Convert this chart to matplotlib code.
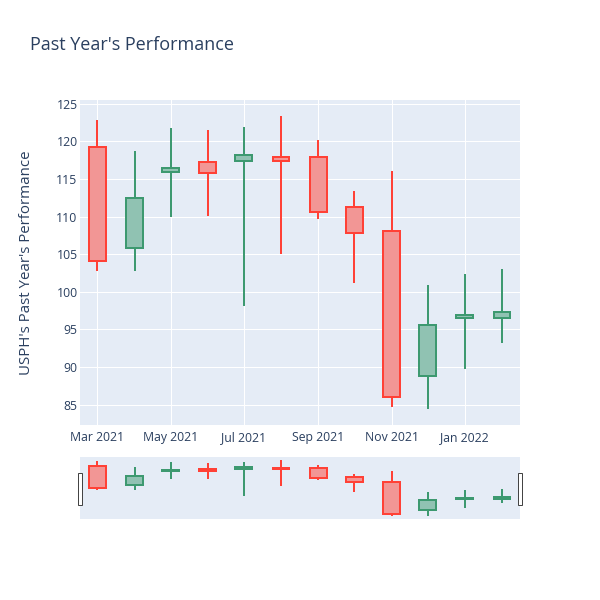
import matplotlib
matplotlib.use("Agg")
import matplotlib.pyplot as plt
import matplotlib.dates as mdates
import numpy as np
import pandas as pd
from matplotlib.patches import Rectangle

plt.rcParams['font.family'] = ['Open Sans', 'DejaVu Sans']

dates = ["2021-03-01", "2021-04-01", "2021-05-01", "2021-06-01", "2021-07-01", "2021-08-01",
         "2021-09-01", "2021-10-01", "2021-11-01", "2021-12-01", "2022-01-01", "2022-02-01"]
opens  = [119.25, 105.84, 115.93, 117.26, 117.43, 117.88, 117.88, 111.28, 108.05, 88.76, 96.50, 96.46]
highs  = [122.79, 118.72, 121.73, 121.55, 121.95, 123.36, 120.22, 113.45, 116.02, 100.88, 102.43, 103.01]
lows   = [102.74, 102.83, 110.00, 110.04, 98.10, 105.04, 109.69, 101.19, 84.73, 84.47, 89.69, 93.23]
closes = [104.16, 112.48, 116.42, 115.80, 118.19, 117.39, 110.62, 107.83, 86.06, 95.53, 96.86, 97.30]

title = "Past Year's Performance"
ylabel = "USPH's Past Year's Performance"
yticks = [85, 90, 95, 100, 105, 110, 115, 120, 125]

INC = "#3D9970"
DEC = "#FF4136"
BG = "#E5ECF6"
TXT = "#2a3f5f"
PX = 72 / 100  # points per pixel

x = mdates.date2num(pd.to_datetime(dates))
o = np.array(opens); h = np.array(highs); l = np.array(lows); c = np.array(closes)

fig = plt.figure(figsize=(6, 6), dpi=100)
W, H = 600, 600
ax = fig.add_axes([80 / W, 1 - 425 / H, 440 / W, 325 / H])
rs = fig.add_axes([80 / W, 1 - 519 / H, 440 / W, 62 / H])

xmin = x[0] - 14.5
xmax = x[-1] + 15
ylim = (82.3, 125.5)


def draw(a, lw_px=2.0, bw=14.0):
    for xi, oi, hi, li, ci in zip(x, o, h, l, c):
        col = INC if ci >= oi else DEC
        a.vlines(xi, li, hi, color=col, linewidth=lw_px * PX, zorder=2)
        lo_b, hi_b = min(oi, ci), max(oi, ci)
        a.bar(xi, hi_b - lo_b, width=bw, bottom=lo_b, facecolor=BG, edgecolor='none', zorder=2.5)
        a.bar(xi, hi_b - lo_b, width=bw, bottom=lo_b, facecolor=matplotlib.colors.to_rgba(col, 0.5),
              edgecolor=col, linewidth=lw_px * PX, zorder=3)


for a in (ax, rs):
    a.set_facecolor(BG)
    for s in a.spines.values():
        s.set_visible(False)
    a.set_xlim(xmin, xmax)
    a.set_ylim(*ylim)

draw(ax)
draw(rs)

ax.set_yticks(yticks)
ax.xaxis.set_major_locator(mdates.MonthLocator(bymonth=[1, 3, 5, 7, 9, 11]))
ax.xaxis.set_major_formatter(mdates.DateFormatter('%b %Y'))
ax.grid(True, color='white', linewidth=1.0 * PX, zorder=0)
ax.set_axisbelow(True)
ax.tick_params(axis='both', length=0, labelsize=12.3 * PX, labelcolor=TXT)
ax.tick_params(axis='y', pad=2.5 * PX)
ax.tick_params(axis='x', pad=6 * PX)

rs.set_xticks([]); rs.set_yticks([])

# range slider handles (473..505 px of the 457..519 band)
hw = 4.5 / 440 * (xmax - xmin)
for cx in (xmin, xmax):
    rs.add_patch(Rectangle((cx - hw / 2, (519 - 505) / 62), hw, 32 / 62,
                           transform=rs.get_xaxis_transform(),
                           facecolor='white', edgecolor='#444444', linewidth=1.0 * PX,
                           clip_on=False, zorder=5))

fig.text(30 / W, 1 - 45 / H, title, ha='left', va='center', fontsize=18 * PX, color=TXT)
fig.text(27 / W, 1 - 262.5 / H, ylabel, ha='center', va='center', rotation=90,
         fontsize=15 * PX, color=TXT)

fig.savefig("out.png", dpi=100, facecolor='white')
